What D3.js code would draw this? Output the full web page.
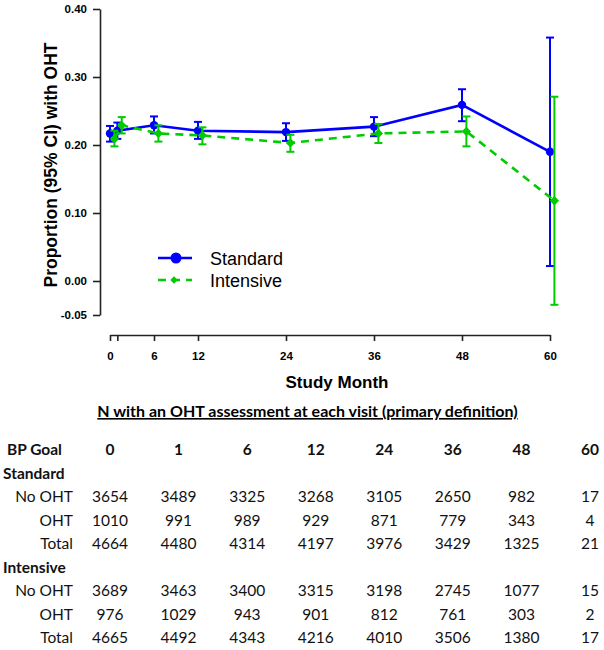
<!DOCTYPE html>
<html>
<head>
<meta charset="utf-8">
<script src="https://cdn.jsdelivr.net/npm/d3@7"></script>
<style>
  body { margin: 0; background: #fff; }
  svg { display: block; }
</style>
</head>
<body>
<div id="chart"></div>
<script>
// study months (x positions of the visits)
const months = [0, 1, 6, 12, 24, 36, 48, 60];

// proportion with OHT and 95% CI
const stdProp = [0.217, 0.221, 0.229, 0.221, 0.219, 0.227, 0.259, 0.190];
const stdLow  = [0.205, 0.209, 0.217, 0.209, 0.206, 0.213, 0.235, 0.022];
const stdHigh = [0.228, 0.233, 0.242, 0.234, 0.232, 0.241, 0.282, 0.358];

const intProp = [0.209, 0.229, 0.217, 0.214, 0.203, 0.217, 0.220, 0.118];
const intLow  = [0.198, 0.217, 0.205, 0.201, 0.190, 0.203, 0.198, -0.035];
const intHigh = [0.221, 0.241, 0.229, 0.226, 0.215, 0.231, 0.242, 0.271];

const yTicks = [0.40, 0.30, 0.20, 0.10, 0.00, -0.05];
const xTickLabels = ['0', '', '6', '12', '24', '36', '48', '60'];

// counts table
const stdNoOHT = [3654, 3489, 3325, 3268, 3105, 2650, 982, 17];
const stdOHT   = [1010, 991, 989, 929, 871, 779, 343, 4];
const stdTotal = [4664, 4480, 4314, 4197, 3976, 3429, 1325, 21];
const intNoOHT = [3689, 3463, 3400, 3315, 3198, 2745, 1077, 15];
const intOHT   = [976, 1029, 943, 901, 812, 761, 303, 2];
const intTotal = [4665, 4492, 4343, 4216, 4010, 3506, 1380, 17];

const width = 604, height = 650;
const BLUE = '#0000ff', GREEN = '#00cc00';
const AXIS_FONT = "'Liberation Sans', Arial, sans-serif";
const TABLE_FONT = "Lato, 'Open Sans', sans-serif";

const svg = d3.select('#chart')
  .append('svg')
  .attr('width', width)
  .attr('height', height);

svg.append('rect').attr('width', width).attr('height', height).attr('fill', '#fff');

const x = d3.scaleLinear().domain([0, 60]).range([110, 550]);
const y = d3.scaleLinear().domain([-0.05, 0.40]).range([315, 9]);
const jitter = 0.6; // intensive group is nudged right a little

// axes
const yAxis = svg.append('g')
  .attr('transform', 'translate(100,0)')
  .call(d3.axisLeft(y).tickValues(yTicks).tickSize(7).tickSizeOuter(0).tickPadding(6)
    .tickFormat(d => d3.format('.2f')(d).replace('\u2212', '-')));

const xAxis = svg.append('g')
  .attr('transform', 'translate(0,335)')
  .call(d3.axisBottom(x).tickValues(months).tickSize(6).tickSizeOuter(0).tickPadding(11)
    .tickFormat((d, i) => xTickLabels[i]));

[yAxis, xAxis].forEach(ax => {
  ax.selectAll('path, line').attr('stroke', '#222').attr('stroke-width', 1.6);
  ax.selectAll('text')
    .attr('fill', '#000')
    .style('font-family', AXIS_FONT)
    .style('font-size', '11.5px')
    .style('font-weight', 'bold');
});

svg.append('text')
  .attr('transform', 'translate(57,165) rotate(-90)')
  .attr('text-anchor', 'middle')
  .style('font-family', AXIS_FONT)
  .style('font-size', '17.5px')
  .style('font-weight', 'bold')
  .text('Proportion (95% CI) with OHT');

svg.append('text')
  .attr('x', 337)
  .attr('y', 388)
  .attr('text-anchor', 'middle')
  .style('font-family', AXIS_FONT)
  .style('font-size', '17px')
  .style('font-weight', 'bold')
  .text('Study Month');

// series
const series = [
  { name: 'Standard', color: BLUE, dash: null, shift: 0, prop: stdProp, low: stdLow, high: stdHigh, marker: 'circle' },
  { name: 'Intensive', color: GREEN, dash: '8,6', shift: jitter, prop: intProp, low: intLow, high: intHigh, marker: 'diamond' }
];

const line = d3.line()
  .x(d => x(d.month))
  .y(d => y(d.p));

series.forEach(s => {
  const pts = months.map((m, i) => ({ month: m + s.shift, p: s.prop[i], lo: s.low[i], hi: s.high[i] }));
  const g = svg.append('g').attr('class', s.name.toLowerCase());

  g.append('path')
    .datum(pts)
    .attr('fill', 'none')
    .attr('stroke', s.color)
    .attr('stroke-width', 2.6)
    .attr('stroke-dasharray', s.dash)
    .attr('d', line);

  const bars = g.selectAll('.err').data(pts).enter().append('g').attr('class', 'err')
    .attr('stroke', s.color).attr('stroke-width', 2);
  bars.append('line')
    .attr('x1', d => x(d.month)).attr('x2', d => x(d.month))
    .attr('y1', d => y(d.lo)).attr('y2', d => y(d.hi));
  bars.append('line')
    .attr('x1', d => x(d.month) - 4).attr('x2', d => x(d.month) + 4)
    .attr('y1', d => y(d.hi)).attr('y2', d => y(d.hi));
  bars.append('line')
    .attr('x1', d => x(d.month) - 4).attr('x2', d => x(d.month) + 4)
    .attr('y1', d => y(d.lo)).attr('y2', d => y(d.lo));

  if (s.marker === 'circle') {
    g.selectAll('.pt').data(pts).enter().append('circle')
      .attr('cx', d => x(d.month)).attr('cy', d => y(d.p)).attr('r', 4.2)
      .attr('fill', s.color);
  } else {
    g.selectAll('.pt').data(pts).enter().append('path')
      .attr('transform', d => `translate(${x(d.month)},${y(d.p)})`)
      .attr('d', d3.symbol(d3.symbolDiamond2, 55))
      .attr('fill', s.color);
  }
});

// legend
const legend = svg.append('g').attr('transform', 'translate(158,258)');
series.forEach((s, i) => {
  const row = legend.append('g').attr('transform', `translate(0,${i * 22})`);
  row.append('line')
    .attr('x1', 0).attr('x2', 34).attr('y1', 0).attr('y2', 0)
    .attr('stroke', s.color).attr('stroke-width', 2.6)
    .attr('stroke-dasharray', s.dash);
  if (s.marker === 'circle') {
    row.append('circle').attr('cx', 18).attr('cy', 0).attr('r', 5.5).attr('fill', s.color);
  } else {
    row.append('path').attr('transform', 'translate(16,0)')
      .attr('d', d3.symbol(d3.symbolDiamond2, 34)).attr('fill', s.color);
  }
  row.append('text')
    .attr('x', 52).attr('y', 6.5)
    .style('font-family', AXIS_FONT)
    .style('font-size', '18px')
    .text(s.name);
});

// table of counts
svg.append('text')
  .attr('x', 307.5)
  .attr('y', 417)
  .attr('text-anchor', 'middle')
  .style('font-family', TABLE_FONT)
  .style('font-size', '16px')
  .style('font-weight', 'bold')
  .style('text-decoration', 'underline')
  .text('N with an OHT assessment at each visit (primary definition)');

const rowIds = ['head', 'std', 'stdNo', 'stdOht', 'stdTot', 'int', 'intNo', 'intOht', 'intTot'];
const rowY = d3.scalePoint().domain(rowIds).range([455, 643.3]);
const colX = d3.scalePoint().domain(months).range([110, 590]);

const table = svg.append('g')
  .style('font-family', TABLE_FONT)
  .style('font-size', '15.5px')
  .attr('fill', '#111');

table.append('text').attr('x', 7).attr('y', rowY('head'))
  .style('font-weight', 'bold').text('BP Goal');
table.append('text').attr('x', 3).attr('y', rowY('std'))
  .style('font-weight', 'bold').text('Standard');
table.append('text').attr('x', 3).attr('y', rowY('int'))
  .style('font-weight', 'bold').text('Intensive');

table.selectAll('.head').data(months).enter().append('text')
  .attr('x', d => colX(d)).attr('y', rowY('head'))
  .attr('text-anchor', 'middle')
  .style('font-weight', 'bold')
  .text(d => d);

const dataRows = [
  { id: 'stdNo', label: 'No OHT', values: stdNoOHT },
  { id: 'stdOht', label: 'OHT', values: stdOHT },
  { id: 'stdTot', label: 'Total', values: stdTotal },
  { id: 'intNo', label: 'No OHT', values: intNoOHT },
  { id: 'intOht', label: 'OHT', values: intOHT },
  { id: 'intTot', label: 'Total', values: intTotal }
];

dataRows.forEach(r => {
  table.append('text')
    .attr('x', 73).attr('y', rowY(r.id))
    .attr('text-anchor', 'end')
    .text(r.label);
  table.selectAll(`.v-${r.id}`).data(r.values).enter().append('text')
    .attr('x', (d, i) => colX(months[i])).attr('y', rowY(r.id))
    .attr('text-anchor', 'middle')
    .text(d => d);
});
</script>
</body>
</html>
